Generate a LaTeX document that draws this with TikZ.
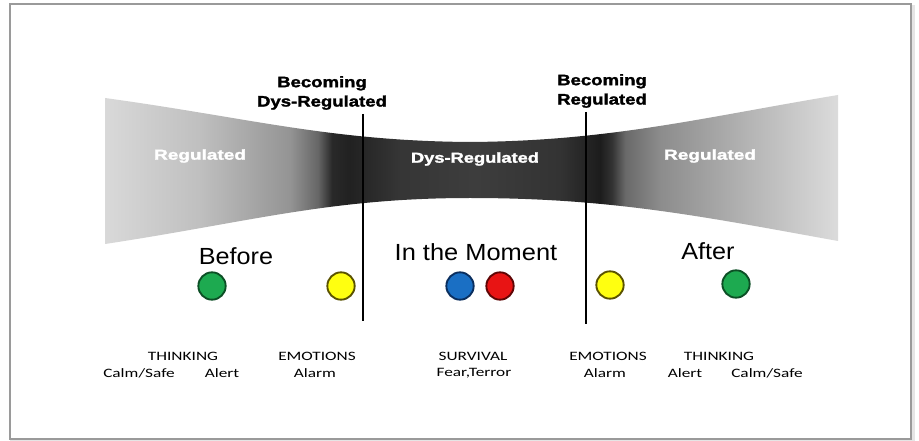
\documentclass[tikz,border=0pt]{standalone}
\usepackage{fontspec}
\setmainfont{Liberation Sans}
\newfontfamily\calib{Carlito}
\newfontfamily\heavy[FakeBold=1.6]{Liberation Sans Bold}
\pgfdeclarehorizontalshading{bandshade}{100bp}{
rgb(0bp)=(0.85,0.85,0.85);
rgb(25bp)=(0.85,0.85,0.85);
rgb(31.48bp)=(0.75,0.75,0.75);
rgb(37.62bp)=(0.58,0.58,0.58);
rgb(39.53bp)=(0.40,0.40,0.40);
rgb(40.49bp)=(0.16,0.16,0.16);
rgb(41.71bp)=(0.13,0.13,0.13);
rgb(45.12bp)=(0.21,0.21,0.21);
rgb(50.24bp)=(0.24,0.24,0.24);
rgb(56.04bp)=(0.20,0.20,0.20);
rgb(58.77bp)=(0.11,0.11,0.11);
rgb(59.58bp)=(0.20,0.20,0.20);
rgb(60.47bp)=(0.41,0.41,0.41);
rgb(62.86bp)=(0.55,0.55,0.55);
rgb(69.0bp)=(0.71,0.71,0.71);
rgb(75bp)=(0.86,0.86,0.86);
rgb(100bp)=(0.86,0.86,0.86)}
\definecolor{dotgreen}{HTML}{1DAA50}
\definecolor{dotgreenb}{HTML}{0C4F25}
\definecolor{dotyellow}{HTML}{FFFF10}
\definecolor{dotyellowb}{HTML}{5A5200}
\definecolor{dotblue}{HTML}{1A6FC4}
\definecolor{dotblueb}{HTML}{0A2E5E}
\definecolor{dotred}{HTML}{E81414}
\definecolor{dotredb}{HTML}{5E0505}
\definecolor{framegray}{HTML}{9A9A9A}
\begin{document}
\begin{tikzpicture}[x=0.75pt,y=-0.75pt,
  boldlbl/.style={font=\heavy\fontsize{11.4}{13.5}\selectfont, align=center, inner sep=0pt, text=black},
  whitelbl/.style={font=\heavy\fontsize{10.8}{12}\selectfont, inner sep=0pt, text=white},
  phase/.style={font=\fontsize{17.5}{20}\selectfont, inner sep=0pt},
  small/.style={font=\calib\fontsize{9.6}{11}\selectfont, inner sep=0pt},
  dot/.style={circle, minimum size=20.5pt, inner sep=0pt, line width=1.4pt},
  divider/.style={line width=1.6pt, black}]
\useasboundingbox (0,0) rectangle (919,441);
\fill[white] (0,0) rectangle (919,441);
% frame with shadow
\draw[line width=3pt, black!10] (12,7) rectangle (913,442);
\draw[line width=1.2pt, framegray, fill=white] (10,4) rectangle (911,439);
% funnel band
\shade[shading=bandshade]
  (105,98) .. controls (250,118) and (330,141) .. (470,142)
  .. controls (610,141) and (700,118) .. (838,95)
  -- (838,241)
  .. controls (700,216) and (610,198) .. (470,198)
  .. controls (330,198) and (250,222) .. (105,244) -- cycle;
% divider lines
\coordinate (l1t) at (363,114);
\coordinate (l1b) at (363,321);
\coordinate (l2t) at (586,112);
\coordinate (l2b) at (586,324);
\draw[divider] (l1t) -- (l1b);
\draw[divider] (l2t) -- (l2b);
% top labels
\node[boldlbl] (bdys) at (322,93) {\scalebox{1.22}[1]{Becoming}\\[1pt]\scalebox{1.22}[1]{Dys-Regulated}};
\node[boldlbl] (breg) at (602,91) {\scalebox{1.22}[1]{Becoming}\\[1pt]\scalebox{1.22}[1]{Regulated}};
% band labels
\node[whitelbl] (regl) at (200,156) {\scalebox{1.32}[1]{Regulated}};
\node[whitelbl] (dysr) at (475,159) {\scalebox{1.27}[1]{Dys-Regulated}};
\node[whitelbl] (regr) at (710,156) {\scalebox{1.32}[1]{Regulated}};
% phases
\node[phase] (before) at (236,256) {\scalebox{1.08}[1]{Before}};
\node[phase] (moment) at (476,252) {\scalebox{1.09}[1]{In the Moment}};
\node[phase] (after) at (708,251) {\scalebox{1.08}[1]{After}};
% dots
\node[dot, fill=dotgreen, draw=dotgreenb] (g1) at (212,286) {};
\node[dot, fill=dotyellow, draw=dotyellowb] (y1) at (341,286) {};
\node[dot, fill=dotblue, draw=dotblueb] (b1) at (460,286) {};
\node[dot, fill=dotred, draw=dotredb] (r1) at (500,286) {};
\node[dot, fill=dotyellow, draw=dotyellowb] (y2) at (610,285) {};
\node[dot, fill=dotgreen, draw=dotgreenb] (g2) at (736,284) {};
% bottom texts
\node[small] (th1) at (183,356) {\scalebox{1.35}[1]{THINKING}};
\node[small] (cs1) at (139,373) {\scalebox{1.35}[1]{Calm/Safe}};
\node[small] (al1) at (222,373) {\scalebox{1.35}[1]{Alert}};
\node[small] (em1) at (317,356) {\scalebox{1.35}[1]{EMOTIONS}};
\node[small] (am1) at (315,373) {\scalebox{1.35}[1]{Alarm}};
\node[small] (sv) at (473,356) {\scalebox{1.35}[1]{SURVIVAL}};
\node[small] (ft) at (474,373) {\scalebox{1.35}[1]{Fear,Terror}};
\node[small] (em2) at (608,356) {\scalebox{1.35}[1]{EMOTIONS}};
\node[small] (am2) at (605,373) {\scalebox{1.35}[1]{Alarm}};
\node[small] (th2) at (719,356) {\scalebox{1.35}[1]{THINKING}};
\node[small] (al2) at (685,373) {\scalebox{1.35}[1]{Alert}};
\node[small] (cs2) at (767,373) {\scalebox{1.35}[1]{Calm/Safe}};
\end{tikzpicture}
\end{document}
